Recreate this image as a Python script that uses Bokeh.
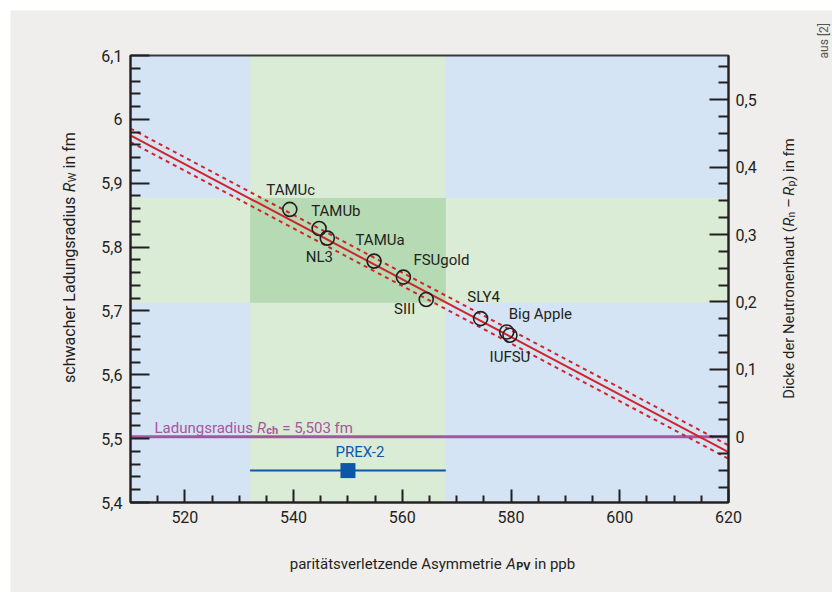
import math
from bokeh.plotting import figure
from bokeh.models import Range1d, LinearAxis, FixedTicker, Label
from bokeh.embed import file_html
from bokeh.resources import INLINE

# ---------------- data ----------------
x_ticks = [520, 540, 560, 580, 600, 620]
x_tick_labels = ["520", "540", "560", "580", "600", "620"]
y_ticks = [5.4, 5.5, 5.6, 5.7, 5.8, 5.9, 6.0, 6.1]
y_tick_labels = ["5,4", "5,5", "5,6", "5,7", "5,8", "5,9", "6", "6,1"]
skin_ticks = [0.0, 0.1, 0.2, 0.3, 0.4, 0.5]
skin_tick_labels = ["0", "0,1", "0,2", "0,3", "0,4", "0,5"]

model_names = ["TAMUc", "TAMUb", "NL3", "TAMUa", "FSUgold", "SIII", "SLY4", "Big Apple", "IUFSU"]
model_apv = [539.3, 544.7, 546.2, 554.8, 560.2, 564.4, 574.4, 579.2, 579.8]
model_rw = [5.859, 5.829, 5.814, 5.778, 5.753, 5.718, 5.688, 5.667, 5.662]

fit_apv = [510, 620]
fit_rw = [5.975, 5.479]
fit_err = 0.0105

prex_apv = 550.0
prex_apv_err = 18.0
prex_rw = 5.795
prex_rw_err = 0.082
prex_marker_rw = 5.45
r_ch = 5.503

x_lim = (510, 620)
y_lim = (5.4, 6.1)
skin_lim = (-0.0977, 0.5657)

# ---------------- style / layout ----------------
FONT = "Roboto"
DARK = "#231f20"
BLUE_BG = "#d5e4f5"
GREEN_BG = "#daebd6"
GREEN_DK = "#b6dab4"
GRAY_BG = "#efeeec"
RED = "#d2232a"
PURPLE = "#a8559f"
PREX_BLUE = "#0c58a6"

OX, OY = 0, 0                # page position of the canvas
CW, CH = 832, 592            # canvas size
PL, PR, PT, PB = 130, 728, 55, 502   # page coords of the axes box

sx = (PR - PL) / (x_lim[1] - x_lim[0])
sy = (PB - PT) / (y_lim[1] - y_lim[0])
ss = (PB - PT) / (skin_lim[1] - skin_lim[0])
X0, X1 = x_lim[0] - (PL - OX) / sx, x_lim[1] + (OX + CW - PR) / sx
Y0, Y1 = y_lim[0] - (OY + CH - PB) / sy, y_lim[1] + (PT - OY) / sy
S0, S1 = skin_lim[0] - (OY + CH - PB) / ss, skin_lim[1] + (PT - OY) / ss


def dx(px):
    return x_lim[0] + (px - PL) / sx


def dy(py):
    return y_lim[0] + (PB - py) / sy


R_W = {' ': .2476, 'a': .5308, 'b': .5469, 'c': .5103, 'd': .5498, 'e': .5166, 'f': .3384,
       'g': .5469, 'h': .5376, 'i': .2373, 'k': .4951, 'l': .2373, 'm': .8550, 'n': .5386,
       'o': .5566, 'p': .5469, 'r': .3306, 's': .5034, 't': .3193, 'u': .5381, 'v': .4727,
       'w': .7334, 'y': .4619, 'z': .4951, 'ä': .5308, 'A': .6523, 'D': .6411, 'L': .5264,
       'N': .6958, 'P': .6172, 'R': .6021, 'V': .6367, 'W': .8701, '(': .3403, ')': .3403,
       '–': .55, '=': .543, ',': .1919, '[': .265, ']': .265}
R_B = {'c': .522, 'h': .55, 'P': .63, 'V': .636, 'n': .55, 'p': .56}


def text_width(s, size, bold=False):
    tot = 0.0
    for ch in s:
        if bold and ch in R_B:
            tot += R_B[ch]
        else:
            tot += R_W.get(ch, .5615)
    return tot * size * 1.025


p = figure(width=CW, height=CH, x_range=Range1d(X0, X1), y_range=Range1d(Y0, Y1),
           output_backend="svg", toolbar_location=None, title=None,
           x_axis_location=None, y_axis_location=None,
           min_border_left=0, min_border_right=0, min_border_top=0, min_border_bottom=0,
           background_fill_color="white", border_fill_color="white")
p.grid.visible = False
p.outline_line_color = None
p.extra_y_ranges = {"skin": Range1d(S0, S1)}

# page panel
p.quad(left=[dx(10)], right=[dx(CW + 5)], bottom=[dy(CH + 5)], top=[dy(10)],
       fill_color=GRAY_BG, line_color=None)

# ---- background & PREX-2 bands ----
p.quad(left=[x_lim[0]], right=[x_lim[1]], bottom=[y_lim[0]], top=[y_lim[1]],
       fill_color=BLUE_BG, line_color=None)
p.quad(left=[x_lim[0]], right=[x_lim[1]], bottom=[prex_rw - prex_rw_err], top=[prex_rw + prex_rw_err],
       fill_color=GREEN_BG, line_color=None)
p.quad(left=[prex_apv - prex_apv_err], right=[prex_apv + prex_apv_err], bottom=[y_lim[0]], top=[y_lim[1]],
       fill_color=GREEN_BG, line_color=None)
p.quad(left=[prex_apv - prex_apv_err], right=[prex_apv + prex_apv_err],
       bottom=[prex_rw - prex_rw_err], top=[prex_rw + prex_rw_err],
       fill_color=GREEN_DK, line_color=None)

# charge radius line
p.line(x=list(x_lim), y=[r_ch, r_ch], line_color=PURPLE, line_width=3)

# fit lines
p.line(x=fit_apv, y=[v + fit_err for v in fit_rw], line_color=RED, line_width=2, line_dash="4 4")
p.line(x=fit_apv, y=[v - fit_err for v in fit_rw], line_color=RED, line_width=2, line_dash="4 4")
p.line(x=fit_apv, y=fit_rw, line_color=RED, line_width=2)

# box outline
p.quad(left=[x_lim[0]], right=[x_lim[1]], bottom=[y_lim[0]], top=[y_lim[1]],
       fill_color=None, line_color="#3a3a3a", line_width=2)

# models
p.scatter(x=model_apv, y=model_rw, marker="circle", size=14, fill_alpha=0,
          line_color=DARK, line_width=1.6)

# PREX-2
p.segment(x0=[prex_apv - prex_apv_err], x1=[prex_apv + prex_apv_err], y0=[prex_marker_rw],
          y1=[prex_marker_rw], line_color=PREX_BLUE, line_width=2)
p.scatter(x=[prex_apv], y=[prex_marker_rw], marker="square", size=15, fill_color=PREX_BLUE,
          line_color=None)
p.add_layout(Label(x=prex_apv, y=prex_marker_rw, x_offset=12, y_offset=19, text="PREX-2",
                   text_font=FONT, text_font_size="15px", text_color=PREX_BLUE,
                   text_align="center", text_baseline="middle"))

# ---- axes (library axes, fixed at the box edges) ----
x_minor = [v for v in range(515, 620, 5) if v not in x_ticks]
y_minor = [round(5.4 + 0.02 * i, 2) for i in range(1, 35)]
y_minor = [v for v in y_minor if all(abs(v - t) > 1e-6 for t in y_ticks)]
s_minor = [round(-0.075 + 0.025 * i, 3) for i in range(0, 26)]
s_minor = [v for v in s_minor if all(abs(v - t) > 1e-6 for t in skin_ticks)]

xa = LinearAxis(fixed_location=y_lim[0], bounds=x_lim,
                ticker=FixedTicker(ticks=x_ticks, minor_ticks=x_minor),
                major_label_overrides={t: l for t, l in zip(x_ticks, x_tick_labels)})
ya = LinearAxis(fixed_location=x_lim[0], bounds=y_lim,
                ticker=FixedTicker(ticks=y_ticks, minor_ticks=y_minor),
                major_label_overrides={t: l for t, l in zip(y_ticks, y_tick_labels)})
ra = LinearAxis(fixed_location=x_lim[1], bounds=skin_lim, y_range_name="skin",
                ticker=FixedTicker(ticks=skin_ticks, minor_ticks=s_minor),
                major_label_overrides={t: l for t, l in zip(skin_ticks, skin_tick_labels)})
p.add_layout(xa, "below")
p.add_layout(ya, "left")
p.add_layout(ra, "right")

for ax in (xa, ya, ra):
    ax.axis_line_width = 2
    ax.axis_line_color = DARK
    ax.major_tick_line_color = DARK
    ax.minor_tick_line_color = DARK
    ax.major_tick_line_width = 2
    ax.minor_tick_line_width = 2
    ax.major_tick_out = 0
    ax.minor_tick_out = 0
    ax.major_label_text_font = FONT
    ax.major_label_text_font_size = "16px"
    ax.major_label_text_color = DARK
for ax in (ya, ra):
    ax.major_tick_in = 19
    ax.minor_tick_in = 10
xa.major_tick_in = 13
xa.minor_tick_in = 7
xa.major_label_standoff = 8
ya.major_label_standoff = 8
ra.major_label_standoff = 7

# model labels: (x_offset, y_offset (up), align)
label_layout = [(1, 19, "center"), (-8, 18, "left"), (-8, -19, "center"), (6, 21, "center"),
                (10, 17, "left"), (-11, -10, "right"), (3, 22, "center"), (2, 18, "left"),
                (0, -22, "center")]
for name, xv, yv, (ox, oy, al) in zip(model_names, model_apv, model_rw, label_layout):
    p.add_layout(Label(x=xv, y=yv, x_offset=ox, y_offset=oy, text=name, text_font=FONT,
                       text_font_size="15px", text_color=DARK, text_align=al,
                       text_baseline="middle"))


def rich_label(segments, cx, cy, vertical=False, color=DARK, anchor="center"):
    widths = [text_width(t, s, bold=("bold" in st)) for t, s, st, sh in segments]
    total = sum(widths)
    pos = -total / 2 if anchor == "center" else 0
    for (text, size, style, shift), w in zip(segments, widths):
        lead = len(text) - len(text.lstrip(" "))
        lead_w = text_width(" " * lead, size)
        t = text.strip(" ")
        if vertical:
            lx, ly, ang = cx + shift, cy - (pos + lead_w), math.pi / 2
        else:
            lx, ly, ang = cx + pos + lead_w, cy + shift, 0
        p.add_layout(Label(x=dx(lx), y=dy(ly), text=t, angle=ang, text_font=FONT,
                           text_font_size=f"{size}px", text_font_style=style, text_color=color,
                           text_align="left", text_baseline="alphabetic"))
        pos += w


# axis titles and notes
rich_label([("paritätsverletzende Asymmetrie ", 15, "normal", 0), ("A", 15, "italic", 0),
            ("PV", 11, "bold", 3), (" in ppb", 15, "normal", 0)], 432, 563)
rich_label([("schwacher Ladungsradius ", 16, "normal", 0), ("R", 16, "italic", 0),
            ("W", 11, "normal", 3), (" in fm", 16, "normal", 0)], 69, 257, vertical=True)
rich_label([("Dicke der Neutronenhaut (", 14.8, "normal", 0), ("R", 14.8, "italic", 0),
            ("n", 10.5, "normal", 3), (" – ", 14.8, "normal", 0), ("R", 14.8, "italic", 0),
            ("p", 10.5, "normal", 3), (") in fm", 14.8, "normal", 0)], 788, 268, vertical=True)
rich_label([("Ladungsradius ", 15, "normal", 0), ("R", 15, "italic", 0), ("ch", 11, "bold", 3),
            (" = " + f"{r_ch:.3f}".replace(".", ",") + " fm", 15, "normal", 0)],
           154, 427, color=PURPLE, anchor="left")
rich_label([("aus [2]", 12, "normal", 0)], 823, 40, vertical=True, color="#555555")

open("out.html", "w").write(file_html(p, INLINE))
